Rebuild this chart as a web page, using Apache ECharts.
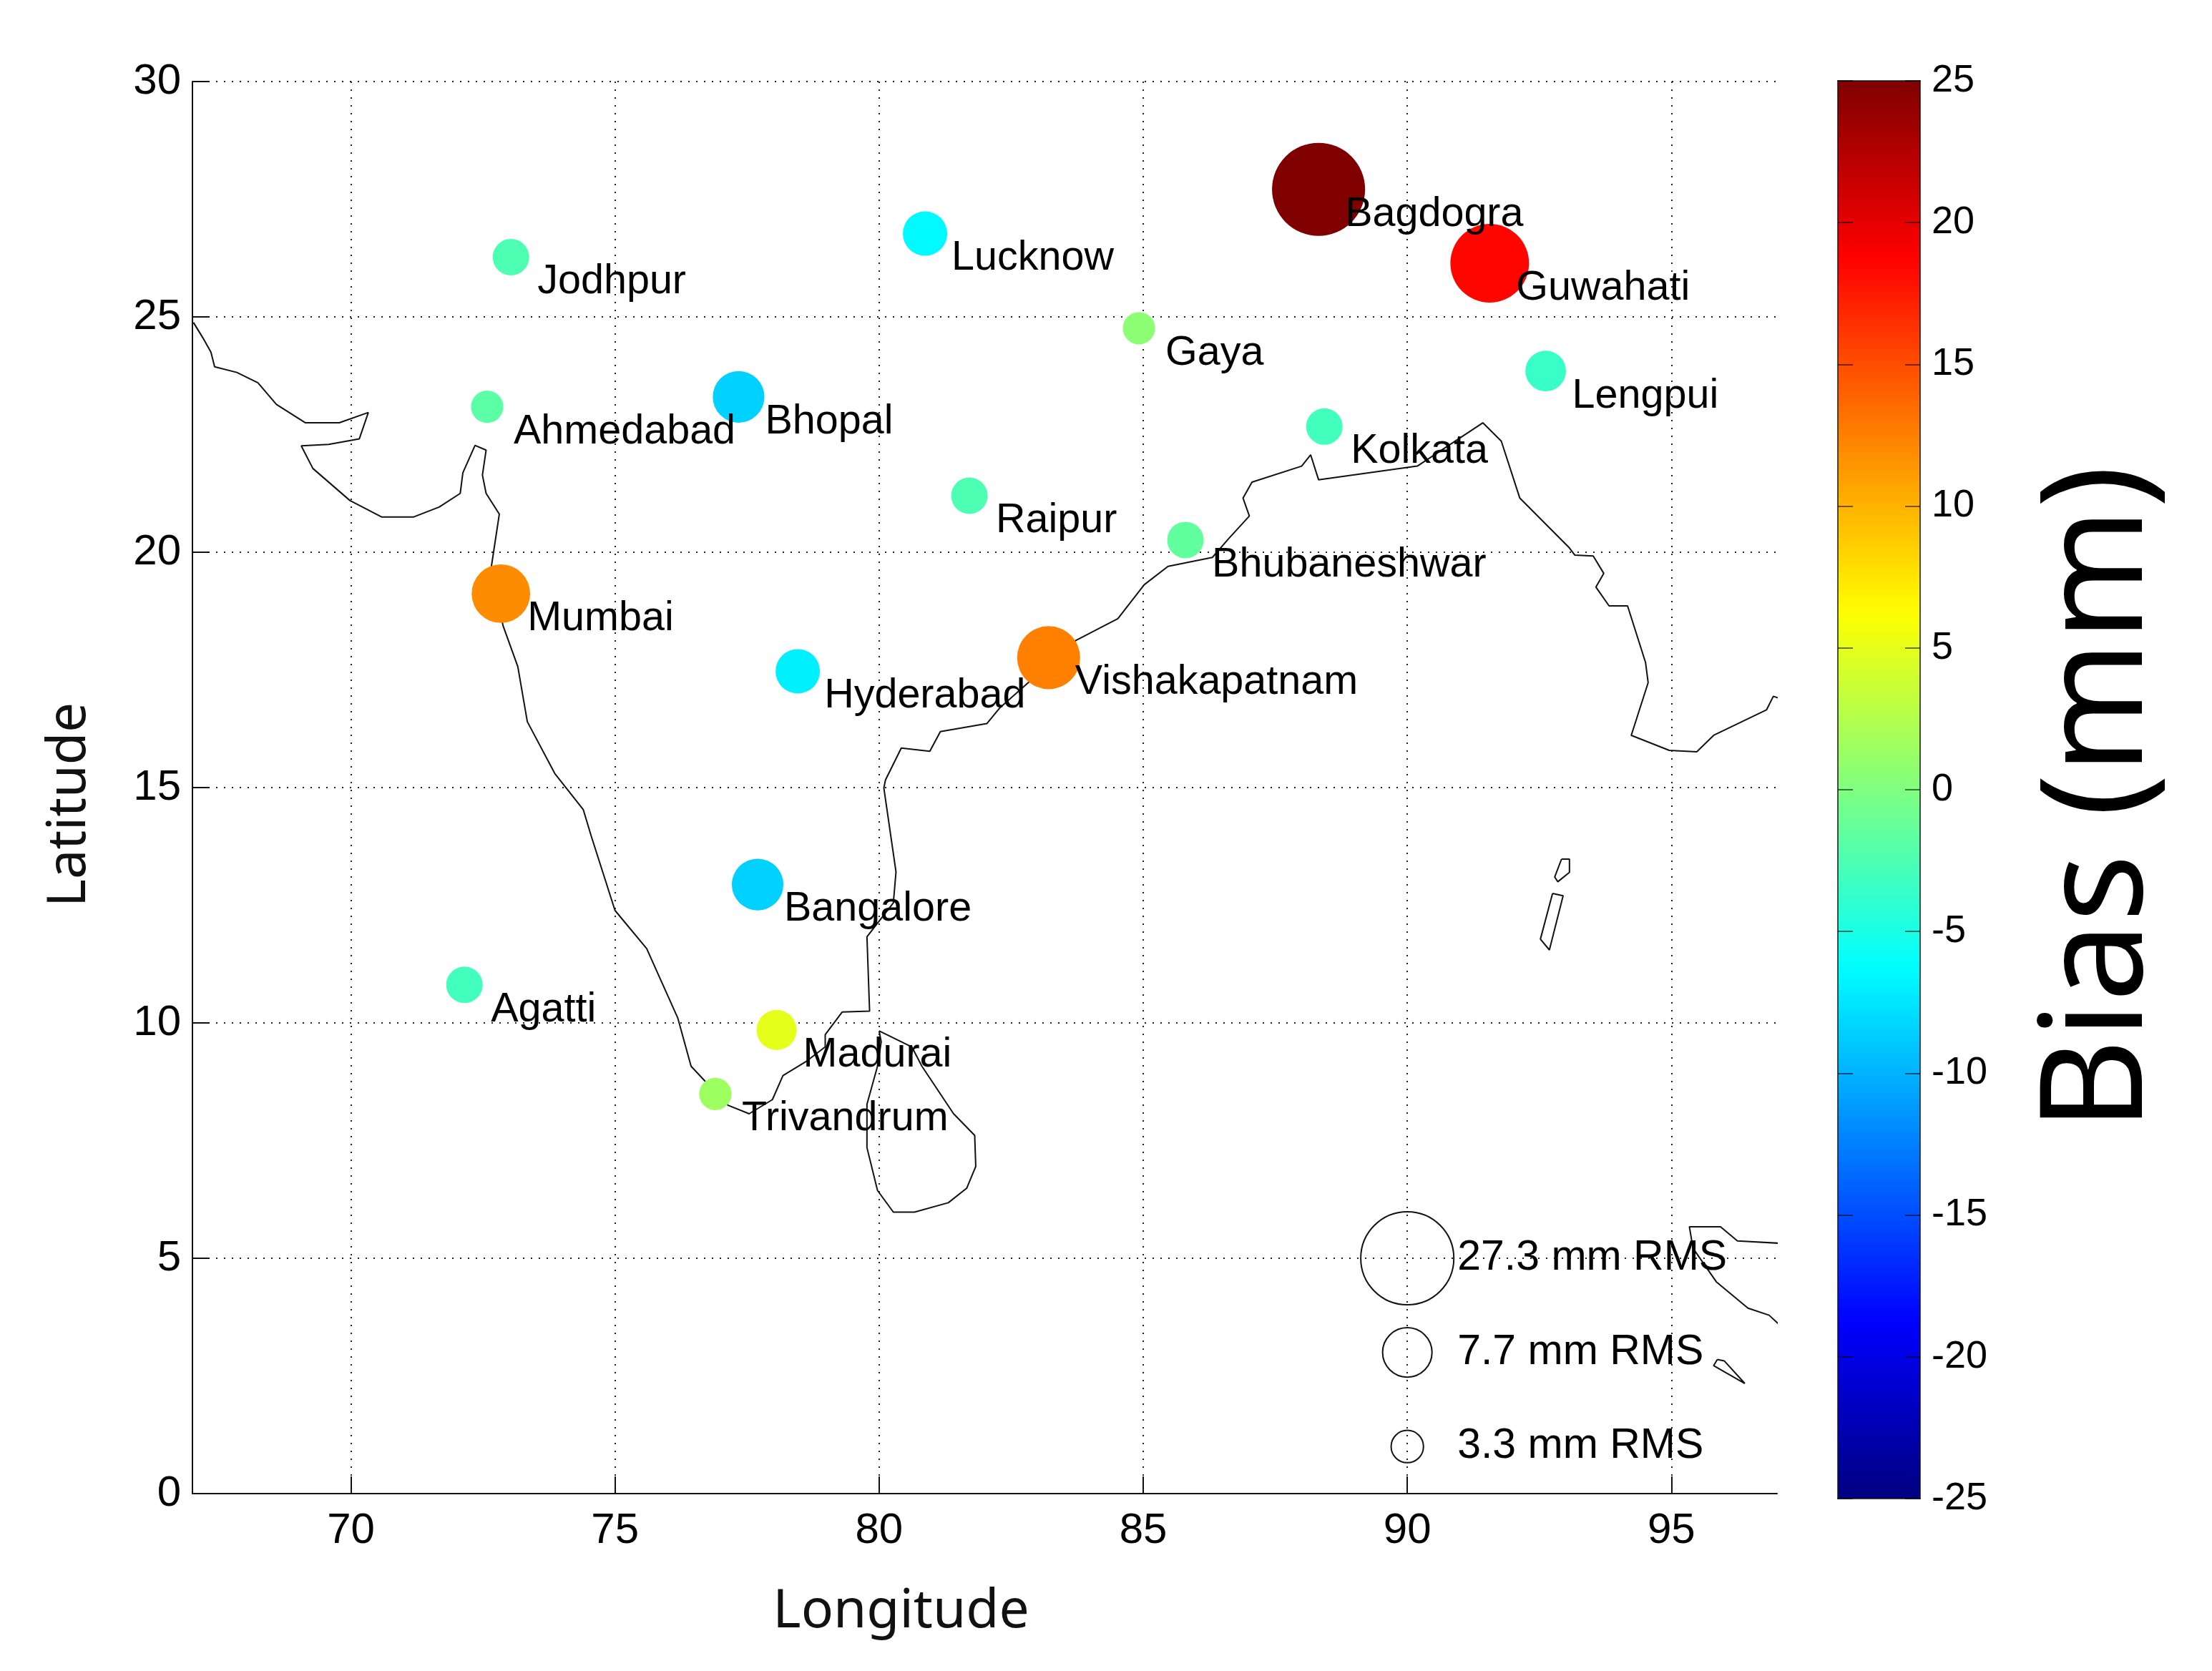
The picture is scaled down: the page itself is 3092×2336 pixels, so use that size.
<!DOCTYPE html>
<html><head><meta charset="utf-8">
<style>html,body{margin:0;padding:0;background:#fff}#c{width:3092px;height:2336px}</style>
<script src="https://cdn.jsdelivr.net/npm/echarts@6/dist/echarts.min.js"></script>
</head><body><div id="c"></div>
<script>
// Stations
const stationNames = ['Jodhpur','Lucknow','Ahmedabad','Bhopal','Raipur','Mumbai','Hyderabad','Bagdogra','Guwahati','Gaya','Lengpui','Kolkata','Bhubaneshwar','Vishakapatnam','Bangalore','Agatti','Madurai','Trivandrum'];
const stationLon = [73.03,80.87,72.58,77.34,81.71,72.84,78.46,88.32,91.56,84.92,92.62,88.43,85.80,83.21,77.70,72.15,78.06,76.90];
const stationLat = [26.27,26.77,23.09,23.30,21.20,19.12,17.47,27.71,26.14,24.76,23.85,22.67,20.26,17.76,12.94,10.81,9.85,8.49];
const stationBias = [-2.5,-6.5,-1.8,-8.5,-2.5,11.9,-7,25,18.5,0.6,-3.5,-3,-1.5,12.5,-8.5,-3,5,1.5];
const stationRms = [4.2,6.2,3.3,8.4,4.2,10.8,6.2,27.3,19.5,3.3,5.2,4.2,4.2,12.5,8.4,4.2,5.1,3.3];
// RMS size key
const keyRms = [27.3,7.7,3.3];
const keyLat = [5,3,1];
const keyLon = [90,90,90];
// Axes
const xTicks = [70,75,80,85,90,95];
const jetColors = ['#000080','#0000ff','#0080ff','#00ffff','#80ff80','#ffff00','#ff8000','#ff0000','#800000'];
// Coastlines, [lon, lat]
const coastMain = [[67.02,24.88],[67.2,24.55],[67.35,24.25],[67.42,23.94],[67.84,23.82],[68.24,23.6],[68.59,23.14],[69.14,22.75],[69.78,22.75],[70.33,22.97],[70.16,22.41],[69.58,22.29],[69.06,22.26],[69.28,21.78],[69.98,21.1],[70.58,20.75],[71.19,20.75],[71.67,20.96],[72.07,21.25],[72.12,21.69],[72.35,22.27],[72.56,22.17],[72.49,21.64],[72.56,21.25],[72.81,20.81],[72.66,19.7],[72.88,18.44],[73.16,17.57],[73.34,16.4],[73.86,15.3],[74.4,14.53],[74.55,13.97],[75.0,12.39],[75.6,11.58],[76.19,10.1],[76.44,9.08],[76.69,8.78],[77.14,8.25],[77.54,8.07],[77.98,8.37],[78.18,8.88],[78.63,9.19],[78.98,9.49],[78.98,9.75],[79.3,10.23],[79.82,10.25],[79.77,11.83],[80.27,12.55],[80.32,13.21],[80.09,14.99],[80.12,15.16],[80.42,15.84],[80.96,15.77],[81.16,16.19],[82.04,16.36],[82.29,16.7],[83.73,18.13],[84.52,18.59],[85.02,19.31],[85.47,19.7],[86.31,19.89],[86.61,20.28],[87.01,20.77],[86.89,21.15],[87.06,21.49],[88.0,21.83],[88.17,22.07],[88.32,21.54],[90.19,21.83],[91.43,22.75],[91.78,22.36],[92.13,21.15],[93.07,20.09],[93.17,19.94],[93.52,19.92],[93.72,19.55],[93.57,19.26],[93.82,18.86],[94.17,18.86],[94.51,17.66],[94.56,17.23],[94.24,16.11],[94.96,15.79],[95.48,15.76],[95.8,16.11],[96.8,16.65],[96.93,16.94],[97.03,16.9]];
const coastSriLanka = [[80.0,9.83],[80.62,9.49],[80.81,9.08],[81.41,8.07],[81.81,7.61],[81.83,6.95],[81.66,6.49],[81.31,6.18],[80.67,5.98],[80.27,5.98],[79.97,6.44],[79.77,7.35],[79.77,8.27],[79.97,9.08],[80.04,9.6],[80.0,9.83]];
const coastAndaman1 = [[92.92,13.48],[93.07,13.48],[93.07,13.2],[92.85,13.0],[92.79,13.1],[92.92,13.48]];
const coastAndaman2 = [[92.75,12.75],[92.95,12.7],[92.69,11.55],[92.52,11.78],[92.75,12.75]];
const coastSumatra = [[97.03,5.32],[96.25,5.37],[95.93,5.67],[95.34,5.67],[95.41,5.21],[95.85,4.5],[96.45,3.94],[96.85,3.79],[97.03,3.6]];
const coastNicobar = [[95.87,2.85],[96.0,2.82],[96.39,2.34],[95.8,2.72],[95.87,2.85]];
const coastlines = [coastMain,coastSriLanka,coastAndaman1,coastAndaman2,coastSumatra,coastNicobar];

const stationData = stationNames.map((n,i)=>[stationLon[i],stationLat[i],stationBias[i],stationRms[i],n]);
const keyData = keyRms.map((r,i)=>[keyLon[i],keyLat[i],r,r+' mm RMS']);
const sans = '"Liberation Sans", Arial, sans-serif';
const titleFont = '"Noto Sans", sans-serif';
const sizeScale = 24.9;
const INK = '#111';

const chart = echarts.init(document.getElementById('c'),null,{renderer:'canvas'});
const dotted = {show:true,lineStyle:{color:'#222',width:2,type:[2,9]}};
const cbAxisBase = {gridIndex:1,type:'value',min:-25,max:25,interval:5,splitLine:{show:false},z:10,
  axisLine:{show:true,onZero:false,lineStyle:{color:'rgba(20,20,20,0.75)',width:2}},
  axisTick:{show:true,inside:true,length:21,lineStyle:{color:'rgba(0,0,0,0.55)',width:2}}};
const cbXBase = {gridIndex:1,type:'value',min:0,max:1,show:true,splitLine:{show:false},axisTick:{show:false},axisLabel:{show:false},z:10,
  axisLine:{show:true,onZero:false,lineStyle:{color:'rgba(20,20,20,0.75)',width:2}}};

chart.setOption({
  animation:false,
  backgroundColor:'#fff',
  grid:[{left:269,top:114,width:2215,height:1974},{left:2569,top:113,width:115,height:1982}],
  xAxis:[
    {gridIndex:0,type:'value',min:67,max:97,
     name:'Longitude',nameLocation:'middle',nameGap:128,
     nameTextStyle:{fontFamily:titleFont,fontSize:75,color:INK,padding:[0,234,0,0]},
     axisLine:{show:true,onZero:false,lineStyle:{color:INK,width:2}},
     axisTick:{show:true,inside:true,length:24,customValues:xTicks,lineStyle:{color:INK,width:2}},
     axisLabel:{show:true,margin:22,fontFamily:sans,fontSize:60,color:'#000',customValues:xTicks},
     splitLine:dotted},
    Object.assign({},cbXBase,{position:'bottom'}),
    Object.assign({},cbXBase,{position:'top'})
  ],
  yAxis:[
    {gridIndex:0,type:'value',min:0,max:30,interval:5,
     name:'Latitude',nameLocation:'middle',nameGap:134,nameRotate:90,
     nameTextStyle:{fontFamily:titleFont,fontSize:74,color:INK,padding:[0,48,0,0]},
     axisLine:{show:true,onZero:false,lineStyle:{color:INK,width:2}},
     axisTick:{show:true,inside:true,length:24,lineStyle:{color:INK,width:2}},
     axisLabel:{show:true,margin:16,fontFamily:sans,fontSize:60,color:'#000'},
     splitLine:dotted},
    Object.assign({},cbAxisBase,{position:'left',axisLabel:{show:false}}),
    Object.assign({},cbAxisBase,{position:'right',
      axisLabel:{show:true,margin:16,fontFamily:sans,fontSize:54,color:'#000'},
      name:'Bias (mm)',nameLocation:'middle',nameGap:154,nameRotate:90,
      nameTextStyle:{fontFamily:titleFont,fontSize:199,color:'#000',padding:[0,24,0,0]}})
  ],
  visualMap:[{
    type:'continuous',seriesIndex:0,dimension:2,min:-25,max:25,
    left:2569,top:113,itemWidth:115,itemHeight:1982,padding:0,
    calculable:false,hoverLink:false,realtime:false,showLabel:false,text:null,
    inRange:{color:jetColors}
  }],
  series:[
    {type:'scatter',xAxisIndex:0,yAxisIndex:0,z:5,silent:true,
     data:stationData,
     symbolSize:v=>sizeScale*Math.sqrt(v[3]),
     itemStyle:{opacity:1},
     label:{show:true,position:'inside',align:'left',verticalAlign:'middle',offset:[37,35],
       formatter:p=>p.data[4],fontFamily:sans,fontSize:57.5,color:'#000',textBorderWidth:0},
     emphasis:{disabled:true}},
    {type:'scatter',xAxisIndex:0,yAxisIndex:0,z:4,silent:true,
     data:keyData,
     symbolSize:v=>sizeScale*Math.sqrt(v[2]),
     itemStyle:{opacity:1,color:'rgba(0,0,0,0)',borderColor:'#111',borderWidth:2},
     label:{show:true,position:'inside',align:'left',verticalAlign:'middle',offset:[70,0],
       formatter:p=>p.data[3],fontFamily:sans,fontSize:59,color:'#000',textBorderWidth:0},
     emphasis:{disabled:true}}
  ].concat(coastlines.map(c=>({
    type:'line',xAxisIndex:0,yAxisIndex:0,z:3,silent:true,data:c,symbol:'none',clip:true,
    lineStyle:{color:'#111',width:2},emphasis:{disabled:true}
  })))
});
</script></body></html>
